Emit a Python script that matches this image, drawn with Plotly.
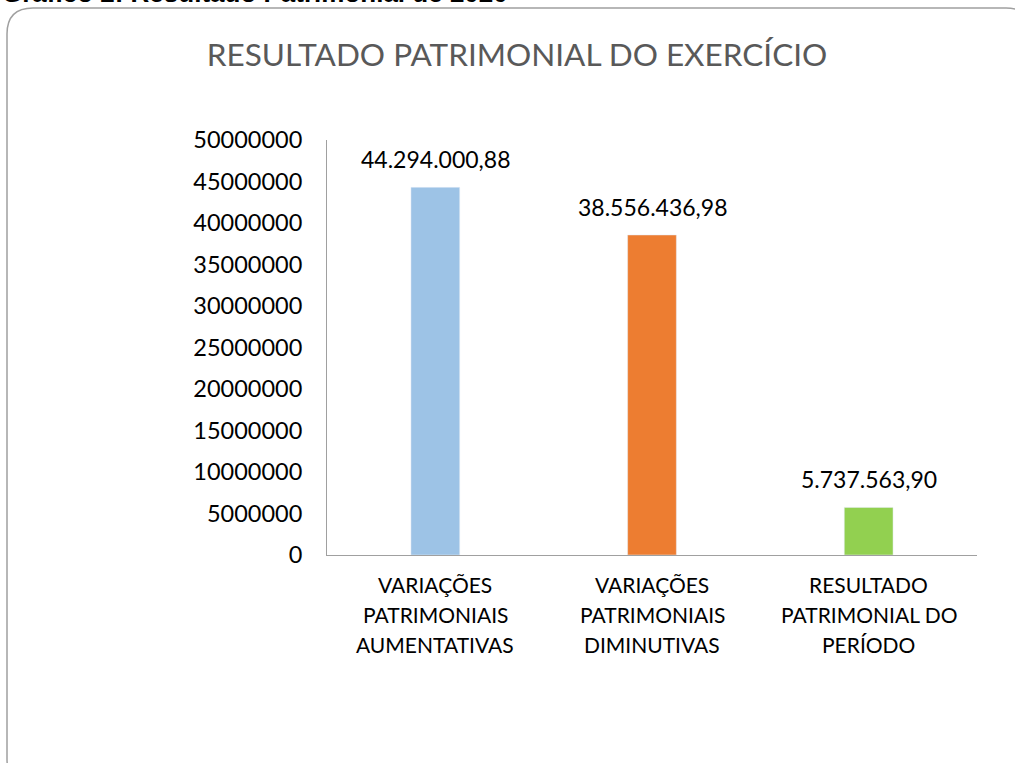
import plotly.graph_objects as go

categories = ["VARIAÇÕES PATRIMONIAIS AUMENTATIVAS",
              "VARIAÇÕES PATRIMONIAIS DIMINUTIVAS",
              "RESULTADO PATRIMONIAL DO PERÍODO"]
category_lines = [["VARIAÇÕES", "PATRIMONIAIS", "AUMENTATIVAS"],
                  ["VARIAÇÕES", "PATRIMONIAIS", "DIMINUTIVAS"],
                  ["RESULTADO", "PATRIMONIAL DO", "PERÍODO"]]
values = [44294000.88, 38556436.98, 5737563.90]
bar_colors = ["#9DC3E6", "#ED7D31", "#92D050"]
y_ticks = [0, 5000000, 10000000, 15000000, 20000000, 25000000,
           30000000, 35000000, 40000000, 45000000, 50000000]


def br(v):
    s = f"{v:,.2f}"
    return s.replace(",", "X").replace(".", ",").replace("X", ".")


labels = [br(v) for v in values]

W, H = 1015, 763
FONT = "Lato"

fig = go.Figure()
fig.add_trace(go.Bar(
    x=categories, y=values, marker_color=bar_colors, width=0.225,
    hoverinfo="skip",
))

# value labels above bars
for c, v, t in zip(categories, values, labels):
    fig.add_annotation(x=c, y=v, xref="x", yref="y", text=t, showarrow=False,
                       yanchor="bottom", yshift=12,
                       font=dict(family=FONT, size=23, color="#000000"))

# category labels (three lines each, 30 px apart)
line_centers = [584, 614, 644]
for c, lines in zip(categories, category_lines):
    for ln, yc in zip(lines, line_centers):
        fig.add_annotation(x=c, y=1 - yc / H, xref="x", yref="paper", text=ln,
                           showarrow=False, yanchor="middle", xanchor="center",
                           font=dict(family=FONT, size=21, color="#000000"))

# rounded frame
x0, y0 = 7 / W, 1 - 8 / H
x1, y1 = 1032 / W, 1 - 785 / H
rx, ry = 26 / W, 26 / H
path = (f"M {x0},{y1 + ry} L {x0},{y0 - ry} Q {x0},{y0} {x0 + rx},{y0} "
        f"L {x1 - rx},{y0} Q {x1},{y0} {x1},{y0 - ry} "
        f"L {x1},{y1 + ry} Q {x1},{y1} {x1 - rx},{y1} "
        f"L {x0 + rx},{y1} Q {x0},{y1} {x0},{y1 + ry} Z")
fig.add_shape(type="path", path=path, xref="paper", yref="paper",
              line=dict(color="#A0A0A0", width=1.5), layer="below")

fig.add_annotation(text="<b>Gráfico 2: Resultado Patrimonial de 2020</b>",
                   xref="paper", yref="paper", x=0, y=1 - 10 / H,
                   xanchor="left", yanchor="bottom", showarrow=False,
                   font=dict(family="Liberation Sans", size=26, color="#000000"))

fig.update_layout(
    width=W, height=H,
    margin=dict(l=0, r=0, t=0, b=0, autoexpand=False),
    paper_bgcolor="white", plot_bgcolor="white",
    showlegend=False,
    title=dict(text="RESULTADO PATRIMONIAL DO EXERCÍCIO",
               x=517 / W, xanchor="center", y=1 - 55 / H, yanchor="middle",
               font=dict(family=FONT, size=31.5, color="#595959")),
    xaxis=dict(domain=[327 / W, 977 / W], showgrid=False,
               showline=True, linecolor="#A0A0A0", linewidth=1,
               ticks="", showticklabels=False, automargin=False),
    yaxis=dict(domain=[1 - 555 / H, 1 - 140 / H], range=[0, 50000000],
               tickvals=y_ticks, tickformat="d", showgrid=False,
               showline=True, linecolor="#A0A0A0", linewidth=1,
               ticks="", tickfont=dict(family=FONT, size=23.5, color="#000000"),
               ticklabelstandoff=19, zeroline=False, automargin=False),
)

fig.write_html("out.html", config={"displayModeBar": False},
               post_script="document.body.style.margin='0';document.body.style.overflow='hidden';")
